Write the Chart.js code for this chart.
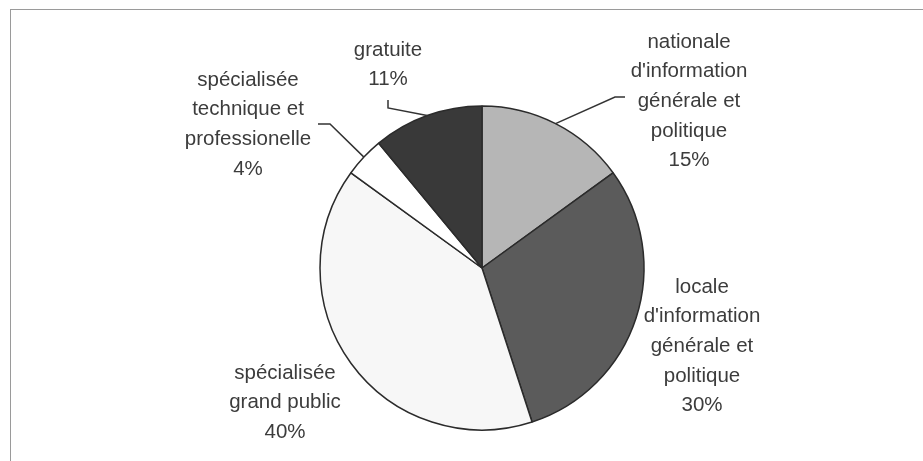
<!DOCTYPE html>
<html>
<head>
<meta charset="utf-8">
<script src="https://cdn.jsdelivr.net/npm/chart.js@4/dist/chart.umd.min.js"></script>
<style>
  html, body { margin: 0; padding: 0; background: #fff; }
  #wrap { position: relative; width: 923px; height: 461px; overflow: hidden; }
  #frame { position: absolute; left: 10px; top: 9px; width: 930px; height: 460px;
           border-top: 1px solid #9a9a9a; border-left: 1px solid #9a9a9a; }
  canvas { position: absolute; left: 0; top: 0; }
</style>
</head>
<body>
<div id="wrap">
  <div id="frame"></div>
  <canvas id="chart" width="923" height="461"></canvas>
</div>
<script>
// presse types, clockwise from 12 o'clock
const categories = [
  ['nationale', "d'information", 'générale et', 'politique'],
  ['locale', "d'information", 'générale et', 'politique'],
  ['spécialisée', 'grand public'],
  ['spécialisée', 'technique et', 'professionelle'],
  ['gratuite']
];
const shares = [15, 30, 40, 4, 11];

const sliceColors = ['#b6b6b6', '#5b5b5b', '#f7f7f7', '#ffffff', '#393939'];

// label top-line centre, offset from pie centre (px)
const labelPos = [[207, -226], [220, 19], [-197, 105], [-234, -188], [-94, -218]];
// leader elbows (px from centre), null = no leader
const leaders = [
  [[133, -171], [143, -171]],
  null,
  null,
  [[-152, -144], [-164, -144]],
  [[-94, -160], [-94, -168]]
];

const pieLabels = {
  id: 'pieLabels',
  afterDraw(chart) {
    const ctx = chart.ctx;
    const meta = chart.getDatasetMeta(0);
    ctx.save();
    ctx.font = '20.5px "Liberation Sans", Arial, sans-serif';
    ctx.fillStyle = '#3c3c3c';
    ctx.textAlign = 'center';
    ctx.textBaseline = 'middle';
    meta.data.forEach((arc, i) => {
      const { x, y, startAngle, endAngle, outerRadius } = arc.getProps(['x', 'y', 'startAngle', 'endAngle', 'outerRadius']);
      const lines = categories[i].concat([shares[i] + '%']);
      const step = 29.7;
      lines.forEach((t, k) => {
        ctx.fillText(t, x + labelPos[i][0], y + labelPos[i][1] + k * step);
      });
      if (leaders[i]) {
        const mid = (startAngle + endAngle) / 2;
        ctx.beginPath();
        ctx.strokeStyle = '#333';
        ctx.lineWidth = 1.5;
        ctx.moveTo(x + Math.cos(mid) * outerRadius, y + Math.sin(mid) * outerRadius);
        leaders[i].forEach(p => ctx.lineTo(x + p[0], y + p[1]));
        ctx.stroke();
      }
    });
    ctx.restore();
  }
};

new Chart(document.getElementById('chart'), {
  type: 'pie',
  data: {
    labels: categories.map(c => c.join(' ')),
    datasets: [{
      data: shares,
      backgroundColor: sliceColors,
      borderColor: '#2b2b2b',
      borderWidth: 1.5,
      radius: 162
    }]
  },
  options: {
    responsive: false,
    animation: false,
    layout: { padding: { left: 320, right: 279, top: 106, bottom: 31 } },
    plugins: { legend: { display: false }, tooltip: { enabled: false } }
  },
  plugins: [pieLabels]
});
</script>
</body>
</html>
